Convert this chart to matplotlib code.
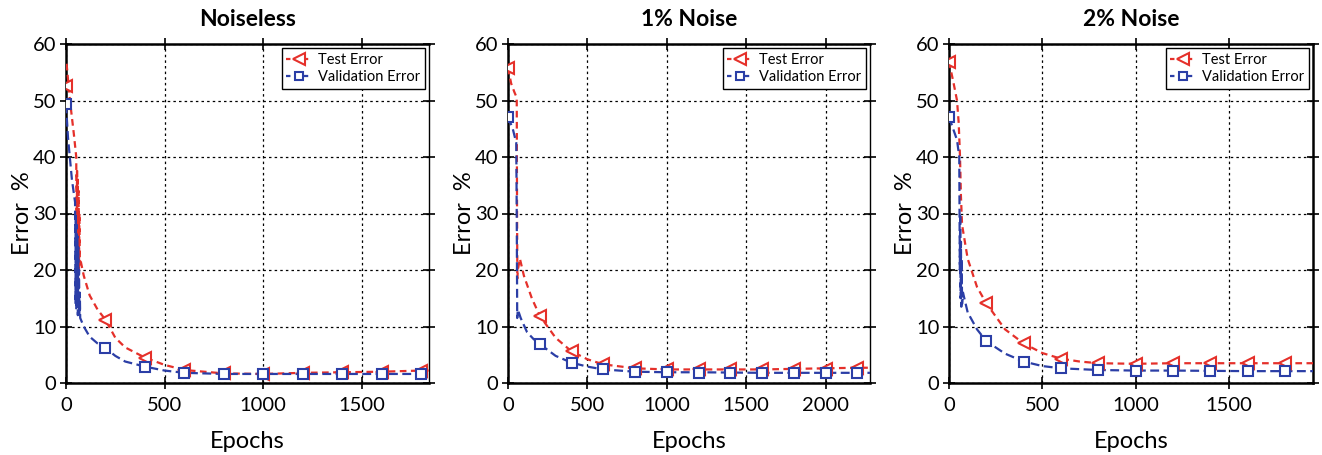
import numpy as np
from matplotlib import pyplot as plt
from matplotlib.lines import Line2D

titles = ['Noiseless', '1% Noise', '2% Noise']
x_limits = [1840, 2280, 1950]
x_ticks = [[0, 500, 1000, 1500], [0, 500, 1000, 1500, 2000], [0, 500, 1000, 1500]]

# dense curves (epoch, error %)
test_ep_1 = [3, 20, 40, 52, 54, 56, 58, 60, 62, 64, 66, 68, 70, 72, 90, 120, 160, 200, 250, 300,
             400, 500, 600, 800, 1000, 1200, 1400, 1600, 1800, 1840]
test_err_1 = [56.5, 50, 44, 40, 17, 38, 16, 36, 18, 34, 20, 30, 21, 22, 19, 15.5, 13, 11.2, 8, 6.3,
              4.5, 3.2, 2.3, 1.7, 1.6, 1.8, 1.9, 2.0, 2.2, 2.2]
val_ep_1 = [0, 10, 30, 46, 48, 50, 52, 54, 56, 58, 60, 62, 64, 66, 68, 70, 72, 90, 120, 160, 200,
            250, 300, 400, 500, 600, 800, 1000, 1200, 1400, 1600, 1800, 1840]
val_err_1 = [49.3, 43.5, 36, 32, 14, 30, 13, 28, 15, 26, 12, 24, 14, 20, 12, 16, 11.5, 10, 8.2, 7, 6.2,
             4.8, 3.8, 2.9, 2.2, 1.8, 1.6, 1.6, 1.6, 1.6, 1.6, 1.6, 1.6]

test_ep_2 = [0, 20, 40, 55, 57, 59, 62, 75, 100, 150, 200, 300, 400, 500, 600, 800, 1000, 1200,
             1400, 1600, 1800, 2000, 2200, 2280]
test_err_2 = [55.8, 53, 51.5, 50.5, 30, 18.5, 20, 22, 19, 15, 11.9, 8, 5.6, 4.2, 3.3, 2.6, 2.4, 2.4,
              2.4, 2.4, 2.5, 2.6, 2.7, 2.7]
val_ep_2 = [0, 30, 52, 55, 58, 62, 80, 120, 160, 200, 300, 400, 500, 600, 800, 1000, 1200, 1400,
            1600, 1800, 2000, 2200, 2280]
val_err_2 = [47.1, 45, 42.5, 30, 11.5, 13, 11.5, 9, 7.8, 6.9, 4.8, 3.6, 2.9, 2.4, 2.0, 1.9, 1.9, 1.85,
             1.8, 1.8, 1.8, 1.8, 1.8]

test_ep_3 = [0, 25, 43, 52, 59, 64, 70, 100, 150, 200, 300, 400, 500, 600, 700, 800, 1000, 1200,
             1400, 1600, 1800, 1950]
test_err_3 = [56.9, 53, 50, 46, 40, 33, 28, 22, 17, 14.1, 9.5, 7.0, 5.3, 4.3, 3.8, 3.5, 3.4, 3.5,
              3.5, 3.5, 3.5, 3.5]
val_ep_3 = [0, 43, 55, 58, 60, 62, 64, 66, 68, 70, 75, 100, 150, 200, 300, 400, 500, 600, 800, 1000,
            1200, 1400, 1600, 1800, 1950]
val_err_3 = [47.1, 43, 40, 20, 30, 15, 25, 13.5, 22, 14, 16, 12.5, 9.5, 7.4, 5.2, 3.8, 3.0, 2.6, 2.3, 2.2,
             2.2, 2.15, 2.1, 2.1, 2.1]

# marker values every 200 epochs
mark_ep_1 = [0, 200, 400, 600, 800, 1000, 1200, 1400, 1600, 1800]
mark_test_1 = [52.5, 11.2, 4.5, 2.3, 1.7, 1.6, 1.8, 1.9, 2.0, 2.2]
mark_val_1 = [49.3, 6.2, 2.9, 1.8, 1.6, 1.6, 1.6, 1.6, 1.6, 1.6]
mark_ep_2 = [0, 200, 400, 600, 800, 1000, 1200, 1400, 1600, 1800, 2000, 2200]
mark_test_2 = [55.8, 11.9, 5.6, 3.3, 2.6, 2.4, 2.4, 2.4, 2.4, 2.4, 2.5, 2.7]
mark_val_2 = [47.1, 6.9, 3.6, 2.4, 2.0, 1.9, 1.85, 1.8, 1.8, 1.8, 1.8, 1.8]
mark_ep_3 = [0, 200, 400, 600, 800, 1000, 1200, 1400, 1600, 1800]
mark_test_3 = [56.9, 14.1, 7.0, 4.3, 3.5, 3.4, 3.5, 3.5, 3.5, 3.5]
mark_val_3 = [47.1, 7.4, 3.8, 2.6, 2.3, 2.2, 2.2, 2.15, 2.1, 2.1]

panels = [
    (test_ep_1, test_err_1, val_ep_1, val_err_1, mark_ep_1, mark_test_1, mark_val_1),
    (test_ep_2, test_err_2, val_ep_2, val_err_2, mark_ep_2, mark_test_2, mark_val_2),
    (test_ep_3, test_err_3, val_ep_3, val_err_3, mark_ep_3, mark_test_3, mark_val_3),
]

RED = '#e5302a'
BLUE = '#2b3ea6'

plt.rcParams['font.family'] = ['Lato', 'DejaVu Sans']

fig = plt.figure(figsize=(13.22, 4.55), dpi=100)
lefts = [66, 508, 949]
rights = [429, 870, 1313]

for i in range(3):
    l, r = lefts[i], rights[i]
    ax = fig.add_axes([l / 1322, (455 - 383) / 455, (r - l) / 1322, (383 - 44) / 455])
    tep, terr, vep, verr, mep, mtest, mval = panels[i]

    ax.plot(tep, terr, color=RED, lw=1.6, dashes=(3, 2), zorder=3)
    ax.plot(vep, verr, color=BLUE, lw=1.6, dashes=(4, 2), zorder=3)
    ax.plot(mep, mtest, ls='none', marker='<', ms=9, mfc='white', mec=RED, mew=1.5, zorder=4)
    ax.plot(mep, mval, ls='none', marker='s', ms=6.5, mfc='white', mec=BLUE, mew=1.5, zorder=4)

    ax.set_xlim(0, x_limits[i])
    ax.set_ylim(0, 60)
    ax.set_xticks(x_ticks[i])
    ax.set_yticks(np.arange(0, 61, 10))
    ax.grid(True, color='black', ls=(0, (2, 2.5)), lw=0.9)
    ax.tick_params(direction='inout', length=8, width=1.2, labelsize=14.5,
                   top=True, right=True, pad=3)
    ax.tick_params(axis='x', pad=6)
    for side in ['left', 'bottom', 'top']:
        ax.spines[side].set_linewidth(1.8)
    ax.spines['right'].set_linewidth(1.8 if i == 2 else 1.0)

    ax.set_title(titles[i], fontsize=16.5, fontweight='bold', pad=13)
    ax.set_xlabel('Epochs', fontsize=17, labelpad=12)
    ax.set_ylabel('Error  %', fontsize=17, labelpad=0)

    handles = [
        Line2D([], [], color=RED, lw=1.6, dashes=(2, 2), marker='<', ms=8, mfc='white', mec=RED, mew=1.5),
        Line2D([], [], color=BLUE, lw=1.6, dashes=(2, 2), marker='s', ms=6, mfc='white', mec=BLUE, mew=1.5),
    ]
    leg = ax.legend(handles, ['Test Error', 'Validation Error'], loc='upper right', fontsize=10.5,
                    fancybox=False, framealpha=1, edgecolor='black', handlelength=1.8,
                    borderaxespad=0.3, borderpad=0.3, labelspacing=0.25, handletextpad=0.4)
    leg.get_frame().set_linewidth(1.0)

fig.savefig('out.png', dpi=100)
